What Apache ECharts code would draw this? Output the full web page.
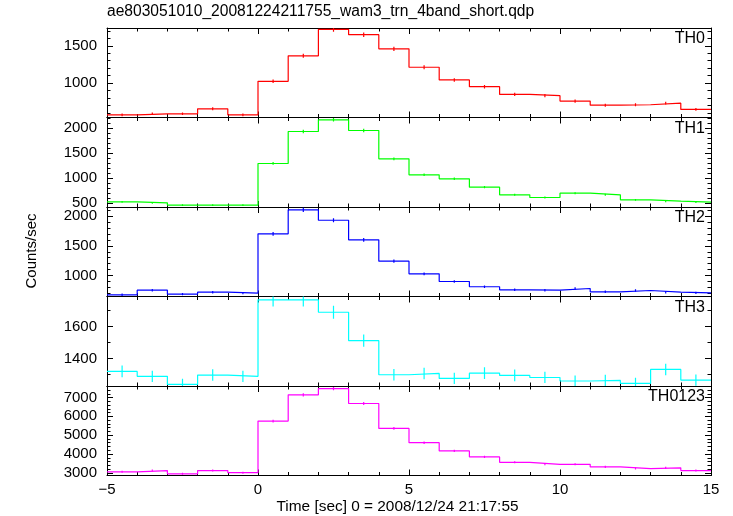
<!DOCTYPE html>
<html><head><meta charset="utf-8">
<script src="https://cdn.jsdelivr.net/npm/echarts@6/dist/echarts.min.js"></script>
<style>html,body{margin:0;padding:0;background:#fff}#c{width:733px;height:516px}</style>
</head><body><div id="c"></div>
<script>
const binCenters = [-4.5,-3.5,-2.5,-1.5,-0.5,0.5,1.5,2.5,3.5,4.5,5.5,6.5,7.5,8.5,9.5,10.5,11.5,12.5,13.5,14.5];
const binHalfWidth = 0.5;
const th0    = [573,587,587,654,573,1023,1365,1721,1649,1459,1212,1041,951,847,830,757,703,708,730,645];
const th0Err = [18,18,18,19,18,24,27,31,30,28,26,24,23,22,22,21,20,20,20,19];
const th1    = [525,507,462,462,462,1290,1926,2159,1946,1383,1065,985,818,667,613,699,667,567,539,520];
const th1Err = [18,18,17,17,17,27,33,35,33,28,25,24,22,20,19,20,20,18,18,18];
const th2    = [675,752,685,719,702,1703,2107,1932,1601,1241,1028,899,810,759,752,781,725,747,719,708];
const th2Err = [20,21,20,21,20,31,35,33,30,27,24,23,22,21,21,21,21,21,21,20];
const th3    = [1320,1289,1239,1297,1289,1765,1765,1688,1511,1299,1307,1276,1309,1295,1282,1260,1264,1245,1332,1266];
const th3Err = [36,35,35,36,35,41,41,40,38,36,36,35,36,36,35,35,35,35,36,35];
const th0123    = [3053,3122,2947,3122,3010,5751,7142,7475,6682,5359,4603,4164,3846,3561,3455,3455,3317,3227,3265,3122];
const th0123Err = [53,54,52,54,53,73,82,84,79,71,66,62,60,57,56,56,55,55,55,54];
const panelNames = ['TH0','TH1','TH2','TH3','TH0123'];
const panelValues = [th0, th1, th2, th3, th0123];
const panelErrors = [th0Err, th1Err, th2Err, th3Err, th0123Err];
const panelColors = ['#ff0000','#00ff00','#0000ff','#00ffff','#ff00ff'];
const yMins = [537, 424, 646, 1229, 2859];
const yMaxs = [1739, 2205, 2155, 1786, 7612];
const th0Ticks = [1000, 1500];
const th1Ticks = [500, 1000, 1500, 2000];
const th2Ticks = [1000, 1500, 2000];
const th3Ticks = [1400, 1600];
const th0123Ticks = [3000, 4000, 5000, 6000, 7000];
const yMajorTicks = [th0Ticks, th1Ticks, th2Ticks, th3Ticks, th0123Ticks];
const yMinorSteps = [100, 100, 100, 100, 200];
const xMin = -5, xMax = 15, xInterval = 5;
const titleText = 'ae803051010_20081224211755_wam3_trn_4band_short.qdp';
const xLabel = 'Time [sec] 0 = 2008/12/24 21:17:55';
const yLabel = 'Counts/sec';

const FONT = '"Liberation Sans", Arial, Helvetica, sans-serif';
const chart = echarts.init(document.getElementById('c'), null, {renderer:'canvas'});
const gridTop = 28, gridH = 89.5, gridLeft = 107, gridRight = 22;
const grids = [], xAxes = [], yAxes = [], series = [], graphics = [];
const axisLine = {show:true, onZero:false, lineStyle:{color:'#000', width:1}};
const noLine = {show:false, onZero:false};
panelNames.forEach((name, p) => {
  grids.push({left: gridLeft, right: gridRight, top: gridTop + p*gridH, height: gridH, outerBoundsMode:'none', containLabel:false});
  const last = p === panelNames.length - 1;
  ['bottom','top'].forEach(pos => {
    xAxes.push({type:'value', gridIndex:p, min:xMin, max:xMax, interval:xInterval, position:pos,
      axisLine, axisTick:{show:true, inside:true, length:6, lineStyle:{color:'#000'}},
      minorTick:{show:true, splitNumber:5, length:3.5, lineStyle:{color:'#000'}},
      splitLine:{show:false},
      axisLabel:{show:last && pos === 'bottom', color:'#000', fontSize:15, fontFamily:FONT, margin:7,
        formatter: v => (v < 0 ? '\u2212' + Math.abs(v) : String(v))}});
  });
  const majors = yMajorTicks[p];
  const minors = [];
  const st = yMinorSteps[p];
  for (let v = Math.ceil(yMins[p]/st)*st; v <= yMaxs[p]; v += st) if (majors.indexOf(v) < 0) minors.push(v);
  ['left','right'].forEach(pos => {
    yAxes.push({type:'value', gridIndex:p, min:yMins[p], max:yMaxs[p], position:pos,
      axisLine, axisTick:{show:true, inside:true, length:6, customValues:majors, lineStyle:{color:'#000'}},
      splitLine:{show:false},
      axisLabel:{show:pos === 'left', customValues:majors, color:'#000', fontSize:15, fontFamily:FONT, margin:10,
        formatter: v => String(v)}});
    yAxes.push({type:'value', gridIndex:p, min:yMins[p], max:yMaxs[p], position:pos,
      axisLine:noLine, axisTick:{show:true, inside:true, length:3.5, customValues:minors, lineStyle:{color:'#000'}},
      splitLine:{show:false}, axisLabel:{show:false, customValues:minors}});
  });
  const vals = panelValues[p];
  const stepData = vals.map((v, i) => [binCenters[i] - binHalfWidth, v]);
  stepData.push([binCenters[vals.length-1] + binHalfWidth, vals[vals.length-1]]);
  series.push({type:'line', xAxisIndex:2*p, yAxisIndex:4*p, step:'end', data:stepData, showSymbol:false,
    symbol:'none', lineStyle:{color:panelColors[p], width:1.2}, animation:false, silent:true, clip:true});
  const errs = panelErrors[p];
  series.push({type:'custom', xAxisIndex:2*p, yAxisIndex:4*p, animation:false, silent:true, clip:true,
    data: vals.map((v, i) => [binCenters[i], v - errs[i], v + errs[i]]),
    renderItem: (params, api) => {
      const a = api.coord([api.value(0), api.value(1)]);
      const b = api.coord([api.value(0), api.value(2)]);
      return {type:'line', shape:{x1:a[0], y1:a[1], x2:b[0], y2:b[1]}, style:{stroke:panelColors[p], lineWidth:1.2}};
    }});
  graphics.push({type:'text', right: 28, top: gridTop + p*gridH + 3,
    style:{text:name, fill:'#000', font:'16px ' + FONT}});
});
graphics.push({type:'text', left: gridLeft, top: 4, style:{text:titleText, fill:'#000', font:'15.6px ' + FONT}});
graphics.push({type:'text', x: 32, y: 251, rotation: Math.PI/2, style:{text:yLabel, fill:'#000', font:'15px ' + FONT, align:'center', verticalAlign:'middle'}});
graphics.push({type:'text', x: 397.5, y: 507, style:{text:xLabel, fill:'#000', font:'15.4px ' + FONT, align:'center', verticalAlign:'middle'}});
chart.setOption({animation:false, grid:grids, xAxis:xAxes, yAxis:yAxes, series, graphic:graphics});
</script></body></html>
